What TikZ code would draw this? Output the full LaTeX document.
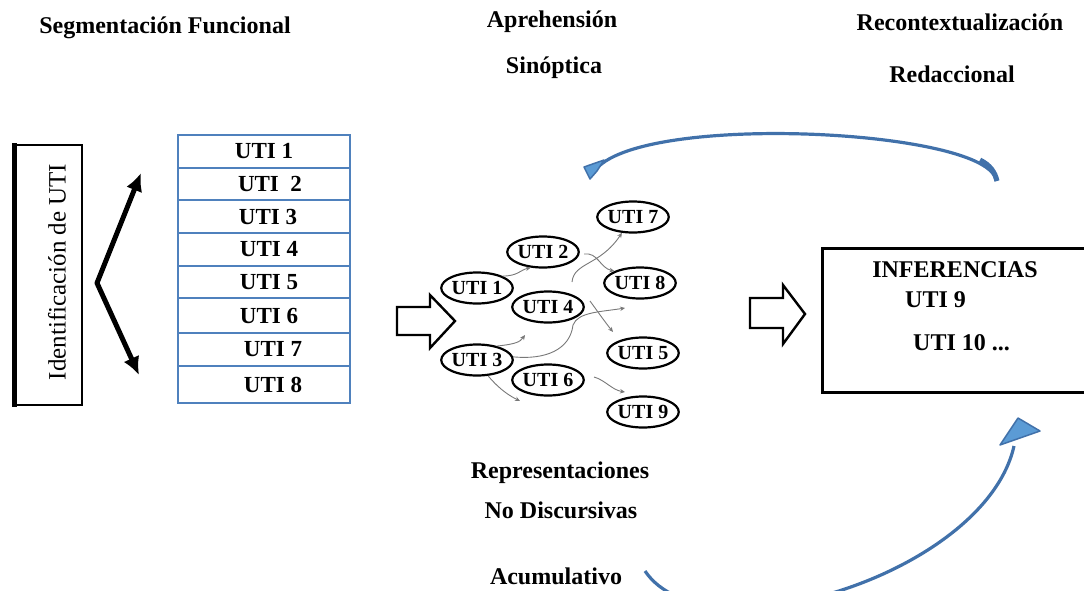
\documentclass[tikz,border=0pt]{standalone}
\usepackage{fontspec}
\setmainfont{Liberation Serif}
\usetikzlibrary{arrows.meta,shapes.geometric}

\definecolor{tblue}{RGB}{79,129,189}
\definecolor{arcline}{RGB}{65,113,170}
\definecolor{arcfill}{RGB}{91,155,213}
\definecolor{linkgray}{RGB}{120,120,120}

\tikzset{
  heading/.style={font=\fontsize{24}{28}\selectfont\bfseries, inner sep=0pt, anchor=base},
  rowbox/.style={draw=tblue, line width=1.2pt, minimum width=172pt, inner sep=0pt,
    font=\fontsize{23}{27}\selectfont\bfseries},
  bubble/.style={ellipse, draw, line width=2.2pt, minimum width=64pt, minimum height=31pt,
    inner sep=0pt, font=\fontsize{20}{22}\selectfont\bfseries},
  link/.style={draw=linkgray, line width=0.9pt, -{Stealth[length=5pt,width=4.5pt]}},
  hollowarrow/.style={draw, line width=2.4pt, line join=miter, fill=white},
  bluearc/.style={draw=arcline, line width=3.2pt},
  bluehead/.style={fill=arcfill, draw=arcline, line width=1.5pt, line join=round},
  boxtext/.style={font=\fontsize{24}{28}\selectfont\bfseries, inner sep=0pt, anchor=base},
}

\begin{document}
\begin{tikzpicture}[x=1pt,y=-1pt]
\useasboundingbox (0,0) rectangle (1084,590);
\clip (0,0) rectangle (1084,590);

% headings
\node[heading] (hseg) at (165,33) {Segmentación Funcional};
\node[heading] (hapr) at (552,27) {Aprehensión};
\node[heading] (hsin) at (554,73) {Sinóptica};
\node[heading] (hrec) at (960,30) {Recontextualización};
\node[heading] (hred) at (952,82) {Redaccional};
\node[heading] (hrep) at (560,478) {Representaciones};
\node[heading] (hnod) at (561,518) {No Discursivas};
\node[heading] (hacu) at (556,584) {Acumulativo};

% identification box
\draw[line width=1.6pt] (14,145) rectangle (82,405);
\draw[line width=5pt] (14,143) -- (14,407);
\node[rotate=90, inner sep=0pt, font=\fontsize{25}{28}\selectfont] (ident) at (57,272) {Identificación de UTI};

% bent double arrow
\coordinate (dtop) at (141,173);
\coordinate (dmid) at (97,283);
\coordinate (dbot) at (139,375);
\draw[line width=5pt, line join=round,
  {Latex[length=18pt,width=17pt]}-{Latex[length=18pt,width=17pt]}]
  (dtop) -- (dmid) -- (dbot);

% table of units
\node[rowbox, minimum height=33pt] (r1) at (264,151.5) {UTI 1};
\node[rowbox, minimum height=32pt] (r2) at (264,184) {\hspace*{12pt}UTI\ \ 2};
\node[rowbox, minimum height=33pt] (r3) at (264,216.5) {\hspace*{8pt}UTI 3};
\node[rowbox, minimum height=33pt] (r4) at (264,249.5) {\hspace*{10pt}UTI 4};
\node[rowbox, minimum height=32pt] (r5) at (264,282) {\hspace*{10pt}UTI 5};
\node[rowbox, minimum height=35pt] (r6) at (264,315.5) {\hspace*{10pt}UTI 6};
\node[rowbox, minimum height=33pt] (r7) at (264,349.5) {\hspace*{18pt}UTI 7};
\node[rowbox, minimum height=37pt] (r8) at (264,384.5) {\hspace*{18pt}UTI 8};

% hollow block arrows
\draw[hollowarrow] (397,307) -- (430,307) -- (430,295) -- (455,321) -- (430,348)
  -- (430,335) -- (397,335) -- cycle;
\draw[hollowarrow] (750,298) -- (783,298) -- (783,285) -- (805,314) -- (783,344)
  -- (783,328) -- (750,328) -- cycle;

% network of units
\node[bubble] (b7) at (633,217) {UTI 7};
\node[bubble] (b2) at (543,252) {UTI 2};
\node[bubble] (b8) at (640,283) {UTI 8};
\node[bubble] (b1) at (477,288) {UTI 1};
\node[bubble] (b4) at (548,307) {UTI 4};
\node[bubble] (b5) at (643,353) {UTI 5};
\node[bubble] (b3) at (477,360) {UTI 3};
\node[bubble] (b6) at (548,380) {UTI 6};
\node[bubble] (b9) at (643,412) {UTI 9};

% free ends of the thin links
\coordinate (k2a) at (584,254);
\coordinate (k3a) at (572,282);
\coordinate (k4a) at (590,301);
\coordinate (k4b) at (613,332);
\coordinate (k5b) at (625,308);
\coordinate (k6b) at (525,335);
\coordinate (k7b) at (520,401);
\coordinate (k8a) at (594,377);
\coordinate (k8b) at (625,392);

\draw[link] (b1.25) .. controls (518,276) and (520,270) .. (b2.232);
\draw[link] (k2a) .. controls (598,252) and (600,268) .. (b8.155);
\draw[link] (k3a) .. controls (574,262) and (600,266) .. (b7.235);
\draw[link] (k4a) .. controls (598,312) and (605,322) .. (k4b);
\draw[link] (b3.5) .. controls (545,360) and (570,350) .. (573,325)
  .. controls (578,312) and (600,312) .. (k5b);
\draw[link] (b3.35) .. controls (516,344) and (520,342) .. (k6b);
\draw[link] (b3.-55) .. controls (500,390) and (510,396) .. (k7b);
\draw[link] (k8a) .. controls (605,380) and (612,390) .. (k8b);

% inference box
\draw[line width=3pt] (822,248) rectangle (1100,392);
\node[boxtext] (inf) at (955,277) {INFERENCIAS};
\node[boxtext, anchor=base west] (inf9) at (905,307) {UTI 9};
\node[boxtext, anchor=base west] (inf10) at (913,350) {UTI 10 ...};

% upper return arc
\coordinate (topR) at (996,181);
\coordinate (topL) at (597,168);
\draw[bluearc] (topR) .. controls (992,130) and (650,112) .. (topL);
\draw[draw=arcline, line width=5pt] (980,160) .. controls (990,165) and (995,172) .. (997,181);
\filldraw[bluehead] (584,167) -- (604,160) -- (597,171) -- (590,179) -- cycle;

% lower accumulating arc
\coordinate (botL) at (645,571);
\coordinate (botR) at (1014,446);
\draw[bluearc] (botL) .. controls (705,660) and (985,575) .. (botR);
\filldraw[bluehead] (1000,445) -- (1018,418) -- (1040,431) -- cycle;
\end{tikzpicture}
\end{document}
